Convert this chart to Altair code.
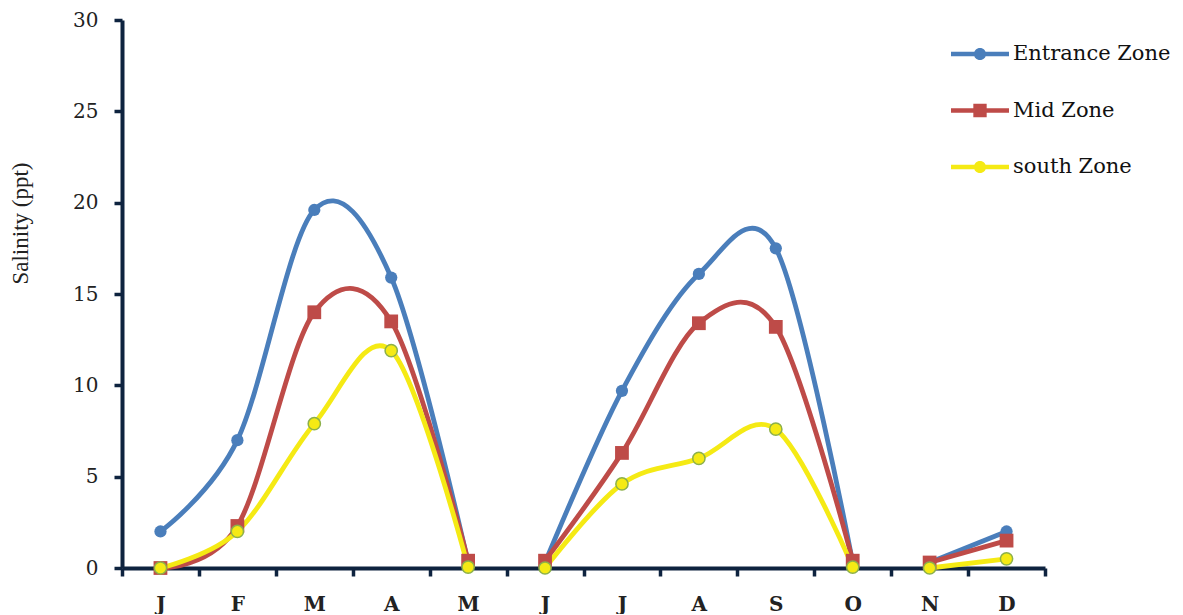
import altair as alt
import pandas as pd

# ---- data ----
month_idx = list(range(1, 13))
month_labels = ["J", "F", "M", "A", "M", "J", "J", "A", "S", "O", "N", "D"]
segment = [1, 1, 1, 1, 1, 2, 2, 2, 2, 2, 3, 3]
series = ["Entrance Zone", "Mid Zone", "south Zone"]
entrance = [2.0, 7.0, 19.6, 15.9, 0.3, 0.3, 9.7, 16.1, 17.5, 0.3, 0.3, 2.0]
mid = [0.0, 2.3, 14.0, 13.5, 0.4, 0.4, 6.3, 13.4, 13.2, 0.4, 0.3, 1.5]
south = [0.0, 2.0, 7.9, 11.9, 0.05, 0.0, 4.6, 6.0, 7.6, 0.05, 0.0, 0.5]
colors = ["#4a7ebb", "#be4b48", "#f5ea14"]
marker_shapes = ["circle", "square", "circle"]
marker_sizes = [150, 190, 150]
y_ticks = [0, 5, 10, 15, 20, 25, 30]

rows = []
for name, vals in zip(series, [entrance, mid, south]):
    for m, v, sg in zip(month_idx, vals, segment):
        rows.append({"m": m, "v": v, "s": name, "seg": f"{name}-{sg}"})
df = pd.DataFrame(rows)

AXIS_COLOR = "#0e233f"
label_arr = "[" + ",".join(f"'{l}'" for l in month_labels) + "]"

x_enc = alt.X(
    "m:O",
    bandPosition=0.5,
    scale=alt.Scale(type="band", domain=month_idx, paddingInner=0, paddingOuter=0),
    axis=alt.Axis(
        title=None, labelExpr=f"{label_arr}[datum.value-1]", labelAngle=0,
        tickBand="extent", grid=False,
        domainColor=AXIS_COLOR, domainWidth=4, tickColor=AXIS_COLOR, tickWidth=3.5,
        tickSize=8, labelFont="DejaVu Serif", labelFontSize=20, labelFontWeight="bold",
        labelColor="#222222", labelPadding=18,
    ),
)
y_enc = alt.Y(
    "v:Q",
    scale=alt.Scale(domain=[0, 30], nice=False, zero=True),
    axis=alt.Axis(
        values=y_ticks, grid=False, title="Salinity (ppt)",
        domainColor=AXIS_COLOR, domainWidth=4, tickColor=AXIS_COLOR, tickWidth=3.5,
        tickSize=8, labelFont="DejaVu Serif", labelFontSize=20, labelColor="#222222",
        labelPadding=16, titleFont="Liberation Serif", titleFontSize=23,
        titleFontWeight="normal", titleColor="#222222", titleAngle=-90,
        titleX=-95, titleY=203, titleAlign="center", titleBaseline="alphabetic",
    ),
)

# legend symbols: line with marker (custom paths in unit coordinates)
line_rect = "M-1,-0.08H1V0.08H-1Z"
circ = "M0.21,0A0.21,0.21 0 1,1 -0.21,0A0.21,0.21 0 1,1 0.21,0Z"
sq = "M-0.23,-0.23H0.23V0.23H-0.23Z"
legend_shapes = [f"{line_rect} {circ}", f"{line_rect} {sq}", f"{line_rect} {circ}"]

legend = alt.Legend(
    title=None, orient="none", legendX=829, legendY=5,
    symbolSize=3364, symbolStrokeWidth=0, symbolOpacity=1,
    labelFont="DejaVu Serif", labelFontSize=21, labelColor="#111111",
    labelOffset=4, rowPadding=17.5, padding=0,
)

layers = []
for name, col in zip(series, colors):
    layers.append(
        alt.Chart(df).transform_filter(alt.datum.s == name)
        .mark_line(interpolate="cardinal", strokeWidth=4.8, color=col)
        .encode(x=x_enc, y=y_enc, detail="seg:N")
    )
for name, col, shp, sz in zip(series, colors, marker_shapes, marker_sizes):
    kw = dict(shape=shp, filled=True, size=sz, fill=col, opacity=1)
    if name == "south Zone":
        kw.update(stroke="#8cb04a", strokeWidth=1.5)
    layers.append(
        alt.Chart(df).transform_filter(alt.datum.s == name)
        .mark_point(**kw).encode(x=x_enc, y=y_enc)
    )

legend_layer = alt.Chart(df).mark_point(filled=True, opacity=0).encode(
    x=x_enc, y=y_enc,
    color=alt.Color("s:N", scale=alt.Scale(domain=series, range=colors), legend=legend),
    shape=alt.Shape("s:N", scale=alt.Scale(domain=series, range=legend_shapes), legend=legend),
)
layers.append(legend_layer)

chart = alt.layer(*layers).properties(
    width=923, height=548,
    background="white",
    autosize=alt.AutoSizeParams(type="none"),
    padding={"left": 114, "top": 12, "right": 130, "bottom": 46},
).configure_view(stroke=None)

chart.save("out.html", embed_options={"renderer": "svg", "actions": False})
